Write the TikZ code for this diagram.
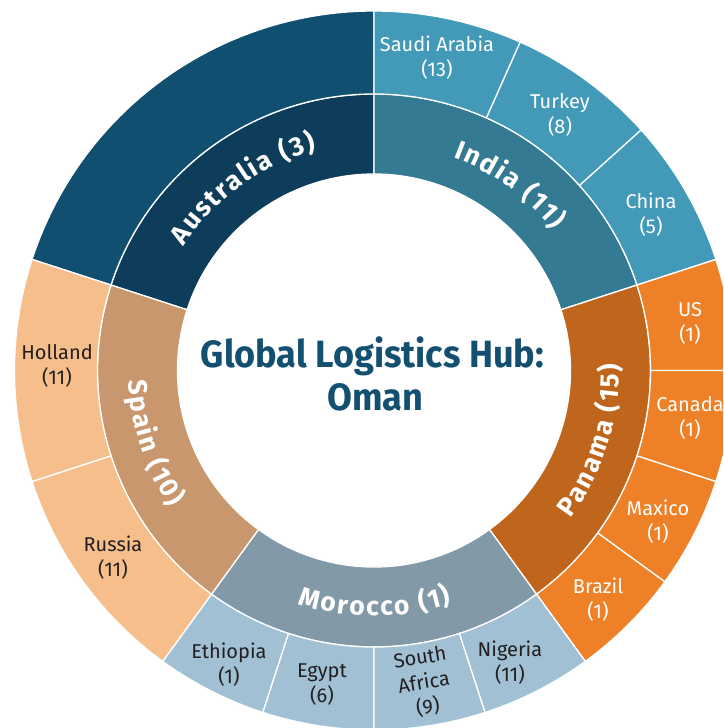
\documentclass[tikz,border=0pt]{standalone}
\usepackage{fontspec}
\setmainfont{Fira Sans}
\newfontfamily\dinfont{Fira Sans}
\newfontfamily\innerfont{Fira Sans}
\newfontfamily\titlefont[FakeStretch=0.95]{Fira Sans}
\usetikzlibrary{decorations.text}
\definecolor{ausIn}{HTML}{0E3D5B}
\definecolor{ausOut}{HTML}{114F71}
\definecolor{indIn}{HTML}{347A92}
\definecolor{indOut}{HTML}{4299B8}
\definecolor{panIn}{HTML}{C0651C}
\definecolor{panOut}{HTML}{EE8127}
\definecolor{morIn}{HTML}{8299A8}
\definecolor{morOut}{HTML}{A1C0D4}
\definecolor{spIn}{HTML}{C8976D}
\definecolor{spOut}{HTML}{F6BE8B}
\definecolor{titleblue}{HTML}{134F70}
\definecolor{darktext}{HTML}{231F20}
\newcommand{\annsec}[5]{\filldraw[fill=#5,draw=white,line width=1.3pt] (#1:#3) arc[start angle=#1,end angle=#2,radius=#3] -- (#2:#4) arc[start angle=#2,end angle=#1,radius=#4] -- cycle;}
\newcommand{\innerfmt}{\innerfont\bfseries\fontsize{26.5}{30}\selectfont\color{white}\kern1.8pt}
\tikzset{
  outlbl/.style={align=center,font=\dinfont\fontsize{20}{25}\selectfont,inner sep=0pt},
  wlbl/.style={outlbl,text=white},
  dlbl/.style={outlbl,text=darktext},
  titlelbl/.style={font=\titlefont\bfseries\fontsize{38}{42}\selectfont,text=titleblue,anchor=base,inner sep=0pt}
}
\begin{document}
\begin{tikzpicture}
\useasboundingbox (-374pt,-357.5pt) rectangle (349pt,370.5pt);
\clip (-374pt,-357.5pt) rectangle (349pt,370.5pt);
% inner ring
\annsec{90}{162}{196.5pt}{276.5pt}{ausIn}
\annsec{18}{90}{196.5pt}{276.5pt}{indIn}
\annsec{-54}{18}{196.5pt}{276.5pt}{panIn}
\annsec{234}{306}{196.5pt}{276.5pt}{morIn}
\annsec{162}{234}{196.5pt}{276.5pt}{spIn}
% outer ring
\annsec{90}{162}{276.5pt}{359.5pt}{ausOut}
\annsec{66}{90}{276.5pt}{359.5pt}{indOut}
\annsec{42}{66}{276.5pt}{359.5pt}{indOut}
\annsec{18}{42}{276.5pt}{359.5pt}{indOut}
\annsec{0}{18}{276.5pt}{359.5pt}{panOut}
\annsec{-18}{0}{276.5pt}{359.5pt}{panOut}
\annsec{-36}{-18}{276.5pt}{359.5pt}{panOut}
\annsec{-54}{-36}{276.5pt}{359.5pt}{panOut}
\annsec{234}{252}{276.5pt}{359.5pt}{morOut}
\annsec{252}{270}{276.5pt}{359.5pt}{morOut}
\annsec{270}{288}{276.5pt}{359.5pt}{morOut}
\annsec{288}{306}{276.5pt}{359.5pt}{morOut}
\annsec{162}{198}{276.5pt}{359.5pt}{spOut}
\annsec{198}{234}{276.5pt}{359.5pt}{spOut}
% inner curved labels
\path[decorate,decoration={text along path,text align=center,text={|\innerfmt|Australia (3)}}]
  (162:227.5pt) arc[start angle=162,end angle=90,radius=227.5pt];
\path[decorate,decoration={text along path,text align=center,text={|\innerfmt|India (11)}}]
  (90:227.5pt) arc[start angle=90,end angle=18,radius=227.5pt];
\path[decorate,decoration={text along path,text align=center,text={|\innerfmt|Panama (15)}}]
  (-54:245.5pt) arc[start angle=-54,end angle=18,radius=245.5pt];
\path[decorate,decoration={text along path,text align=center,text={|\innerfmt|Morocco (1)}}]
  (234:245.5pt) arc[start angle=234,end angle=306,radius=245.5pt];
\path[decorate,decoration={text along path,text align=center,text={|\innerfmt|Spain (10)}}]
  (162:245.5pt) arc[start angle=162,end angle=234,radius=245.5pt];
% outer labels
\node[wlbl] (saudi) at (63pt,312.5pt) {Saudi Arabia\\(13)};
\node[wlbl] (turkey) at (186pt,255.5pt) {Turkey\\(8)};
\node[wlbl] (china) at (277pt,155.5pt) {China\\(5)};
\node[wlbl] (us) at (316pt,47.5pt) {US\\(1)};
\node[wlbl] (canada) at (316pt,-47.5pt) {Canada\\(1)};
\node[wlbl] (maxico) at (284pt,-151.5pt) {Maxico\\(1)};
\node[wlbl] (brazil) at (224pt,-229.5pt) {Brazil\\(1)};
\node[dlbl] (nigeria) at (136pt,-292.5pt) {Nigeria\\(11)};
\node[dlbl,rotate=9] (safrica) at (50pt,-312.5pt) {South\\Africa\\(9)};
\node[dlbl] (egypt) at (-52pt,-314.5pt) {Egypt\\(6)};
\node[dlbl] (ethiopia) at (-145pt,-294.5pt) {Ethiopia\\(1)};
\node[dlbl] (russia) at (-261pt,-187.5pt) {Russia\\(11)};
\node[dlbl] (holland) at (-317pt,4.5pt) {Holland\\(11)};
% title
\node[titlelbl] (title1) at (-1.5pt,2.5pt) {Global Logistics Hub:};
\node[titlelbl] (title2) at (1.5pt,-39.5pt) {Oman};
\end{tikzpicture}
\end{document}
